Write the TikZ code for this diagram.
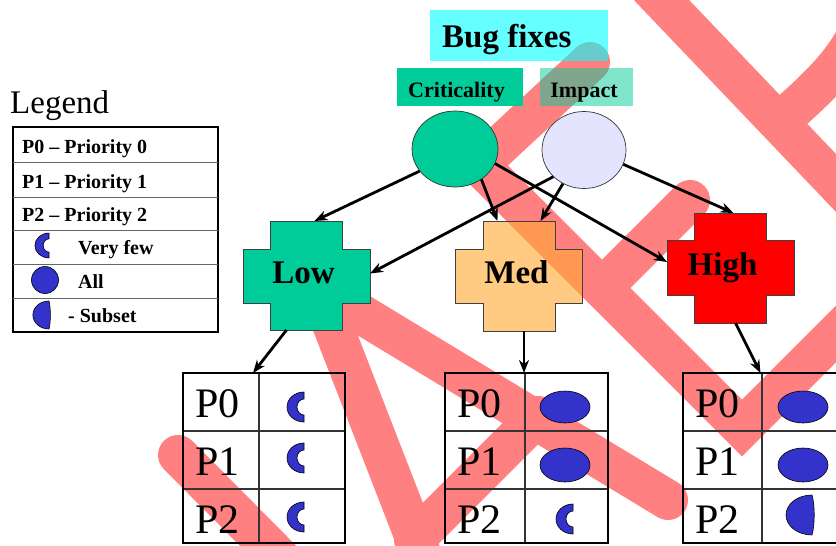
\documentclass[tikz,border=0pt]{standalone}
\usepackage{fontspec}
\setmainfont{Liberation Serif}
\usetikzlibrary{calc,arrows.meta,shapes.geometric}
\definecolor{wm}{HTML}{FF8080}
\definecolor{crit}{HTML}{00CC99}
\definecolor{lav}{HTML}{E4E4FF}
\definecolor{medc}{HTML}{FFA830}
\definecolor{titlec}{HTML}{00FFFF}
\definecolor{iblue}{HTML}{3333CC}
\begin{document}
\begin{tikzpicture}[x=1pt,y=-1pt,
  wmark/.style={line width=40pt, draw=wm, line cap=round, line join=miter},
  arr/.style={line width=2.8pt, -{Stealth[length=13pt,width=10pt]}},
  blueshape/.style={fill=iblue, draw=black, line width=0.6pt},
  crossline/.style={draw=black!75, line width=0.8pt},
  bbox/.style={inner sep=0pt, outer sep=0pt},
  tabouter/.style={line width=2.8pt},
  tabinner/.style={line width=1.1pt, draw=black!80},
  bigtxt/.style={font=\fontsize{42}{46}\selectfont, anchor=base west, inner sep=0pt},
  crosstxt/.style={font=\fontsize{33}{36}\selectfont\bfseries, anchor=base, inner sep=0pt},
  headtxt/.style={font=\fontsize{22}{24}\selectfont\bfseries, anchor=base, inner sep=0pt},
  legtxt/.style={font=\fontsize{20}{22}\selectfont\bfseries, anchor=base west, inner sep=0pt},
  crescent/.pic={\filldraw[blueshape] (0,15) arc[start angle=90,end angle=270,x radius=17,y radius=15] -- (0,-8) arc[start angle=270,end angle=90,x radius=7,y radius=8] -- cycle;},
  subset/.pic={\filldraw[blueshape] (0,20) arc[start angle=90,end angle=270,x radius=26,y radius=20] .. controls (3,-10) and (3,10) .. (0,20) -- cycle;}
]
\useasboundingbox (0,0) rectangle (836,546);
\fill[white] (0,0) rectangle (836,546);

% watermark
\draw[wmark] (178,455) -- (300,578);
\draw[wmark] (478,700) -- (318,288) -- (668,500);
\draw[wmark] (414,540) -- (538,416);
\draw[wmark] (590,62) -- (479,165) -- (742,428) -- (890,280);
\draw[wmark] (602,288) -- (690,200);
\draw[wmark] (650,-12) -- (900,250);
\draw[wmark] (787,115) .. controls (850,60) and (880,20) .. (860,-40);

% headers
\node[bbox, fill=titlec, fill opacity=0.6, minimum width=178pt, minimum height=51pt] (title) at (519,35.5) {};
\node[font=\fontsize{33}{36}\selectfont\bfseries, anchor=base west, inner sep=0pt] (titletxt) at (442,47) {Bug fixes};
\node[bbox, fill=crit, minimum width=126pt, minimum height=38pt] (crit) at (460,87) {};
\node[headtxt] (crittxt) at (456.5,97) {Criticality};
\node[bbox, fill=crit, fill opacity=0.5, minimum width=93pt, minimum height=38pt] (impact) at (586.5,87) {};
\node[headtxt] (imptxt) at (584,97) {Impact};

% circles
\node[ellipse, draw=black!80, line width=0.7pt, fill=crit, minimum width=86pt, minimum height=76pt, inner sep=0pt] (ccirc) at (455,149) {};
\node[ellipse, draw=black!80, line width=0.7pt, fill=lav, minimum width=84pt, minimum height=77pt, inner sep=0pt] (icirc) at (584,150) {};

% crosses
\filldraw[crossline, fill=crit] (270,221) -- (342,221) -- (342,249) -- (370,249) -- (370,303) -- (342,303) -- (342,330) -- (270,330) -- (270,303) -- (243,303) -- (243,249) -- (270,249) -- cycle;
\node[bbox, minimum width=127pt, minimum height=109pt] (low) at (306.5,275.5) {};
\node[crosstxt] (lowtxt) at (303.5,283) {Low};
\filldraw[crossline, fill=medc, fill opacity=0.6] (483,221) -- (555,221) -- (555,249) -- (582,249) -- (582,303) -- (555,303) -- (555,331) -- (483,331) -- (483,303) -- (455,303) -- (455,249) -- (483,249) -- cycle;
\node[bbox, minimum width=127pt, minimum height=110pt] (med) at (518.5,276) {};
\node[crosstxt] (medtxt) at (516.5,283) {Med};
\filldraw[crossline, fill=red] (694,213) -- (766,213) -- (766,240) -- (794,240) -- (794,295) -- (766,295) -- (766,323) -- (694,323) -- (694,295) -- (667,295) -- (667,240) -- (694,240) -- cycle;
\node[bbox, minimum width=127pt, minimum height=110pt] (high) at (730.5,268) {};
\node[crosstxt] (hightxt) at (722.5,275) {High};

% tables
\node[bbox, minimum width=162pt, minimum height=170pt] (tlow) at (264,458) {};
\node[bbox, minimum width=163pt, minimum height=170pt] (tmed) at (526.5,458) {};
\node[bbox, minimum width=167pt, minimum height=170pt] (thigh) at (766.5,458) {};
\foreach \l/\d/\r in {183/259/345, 445/525/608, 683/762/850} {
  \draw[tabinner] (\d,373) -- (\d,543);
  \draw[tabinner] (\l,431) -- (\r,431);
  \draw[tabinner] (\l,489) -- (\r,489);
  \draw[tabouter] (\l,373) rectangle (\r,543);
}
\foreach \x/\n in {195/a, 457/b, 695/c} {
  \node[bigtxt] (p0\n) at (\x,417) {P0};
  \node[bigtxt] (p1\n) at (\x,475) {P1};
  \node[bigtxt] (p2\n) at (\x,533) {P2};
}
% table icons
\pic at (304,407) {crescent};
\pic at (304,458) {crescent};
\pic at (304,517) {crescent};
\filldraw[blueshape] (565,407) ellipse[x radius=25, y radius=16];
\filldraw[blueshape] (565,465) ellipse[x radius=25, y radius=17];
\pic at (573,519) {crescent};
\filldraw[blueshape] (803,407) ellipse[x radius=25, y radius=16];
\filldraw[blueshape] (803,465) ellipse[x radius=25, y radius=17];
\pic at (812,515) {subset};

% connectors
\draw[arr] (ccirc.212) -- ($(low.north)+(8,0)$);
\draw[arr] (ccirc.311) -- ($(med.north)+(-21,0)$);
\draw[arr] (ccirc.340) -- ($(high.west)+(0,-6)$);
\draw[arr] (icirc.221) -- ($(low.east)+(0,-2)$);
\draw[arr] (icirc.238) -- ($(med.north)+(22,0)$);
\draw[arr] (icirc.340) -- ($(high.north)+(3,0)$);
\draw[arr] ($(low.south)+(-20,0)$) -- ($(tlow.north)+(-11,0)$);
\draw[arr] ($(med.south)+(5.5,0)$) -- ($(tmed.north)+(-2.5,0)$);
\draw[arr] ($(high.south)+(5,0)$) -- ($(thigh.north)+(-6,0)$);

% legend
\node[font=\fontsize{33}{36}\selectfont, anchor=base west, inner sep=0pt] (legtitle) at (10,113) {Legend};
\node[bbox, draw, line width=2.2pt, minimum width=205pt, minimum height=205pt] (legbox) at (115.5,229.5) {};
\foreach \y in {162,197,230,264,298} \draw[line width=0.8pt, black!60] (13,\y) -- (218,\y);
\node[legtxt] (l1) at (22,153) {P0 \textendash{} Priority 0};
\node[legtxt] (l2) at (22,188) {P1 \textendash{} Priority 1};
\node[legtxt] (l3) at (22,221) {P2 \textendash{} Priority 2};
\node[legtxt] (l4) at (78,254) {Very few};
\node[legtxt] (l5) at (78,288) {All};
\node[legtxt] (l6) at (68,322) {- Subset};
\pic[scale=0.83] at (49,245.5) {crescent};
\filldraw[blueshape] (45,280) circle[radius=13.5];
\pic[xscale=0.62, yscale=0.7] at (49,315) {subset};
\end{tikzpicture}
\end{document}
